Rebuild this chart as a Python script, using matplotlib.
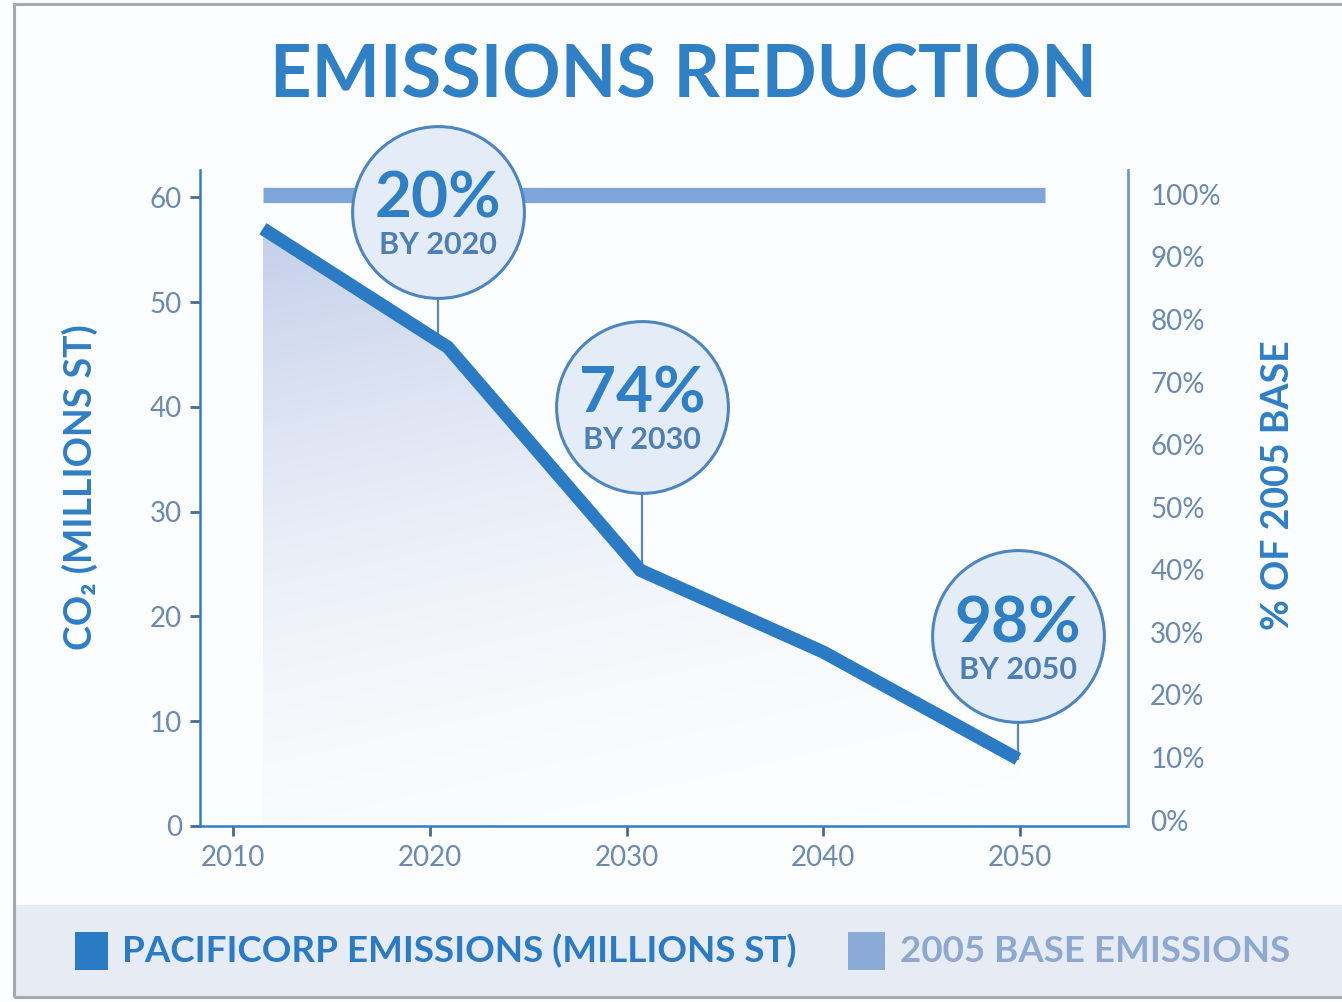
import matplotlib
matplotlib.use("Agg")
import matplotlib.pyplot as plt
import numpy as np
from matplotlib.patches import Rectangle, Polygon
from matplotlib.colors import LinearSegmentedColormap

plt.rcParams['font.family'] = ['Lato', 'DejaVu Sans']

# data
years = [2011.5, 2020.9, 2030.7, 2040.0, 2049.9]
emissions = [57.0, 45.7, 24.4, 16.6, 6.4]
base_years = [2011.5, 2051.3]
base_emissions = [60.2, 60.2]

goal_x = [2020.4, 2030.8, 2049.9]
goal_y = [58.6, 40.0, 18.1]
goal_pct = ["20%", "74%", "98%"]
goal_by = ["BY 2020", "BY 2030", "BY 2050"]

x_ticks = [2010, 2020, 2030, 2040, 2050]
y_ticks = [0, 10, 20, 30, 40, 50, 60]
pct_ticks = [0, 10, 20, 30, 40, 50, 60, 70, 80, 90, 100]

BLUE = '#2b7bc4'
LIGHT = '#7ea6da'
TICKC = '#6a8ab0'

W, H = 1342, 1002
fig = plt.figure(figsize=(W / 100, H / 100), dpi=100)
fig.patch.set_facecolor('#fcfdfe')


def fx(px):
    return px / W


def fy(py):
    return 1 - py / H


# legend band + outer frame
fig.add_artist(Rectangle((fx(15), fy(996)), fx(1342) - fx(15), (996 - 905) / H,
                         transform=fig.transFigure, facecolor='#e6ebf4', edgecolor='none', zorder=0))
fig.add_artist(Rectangle((fx(14), fy(997)), fx(1360) - fx(14), (997 - 4) / H,
                         transform=fig.transFigure, facecolor='none', edgecolor='#a9a9a9',
                         linewidth=2.2, zorder=1))

ax = fig.add_axes([fx(200), fy(826), fx(1128) - fx(200), (826 - 170) / H])
ax.set_facecolor('none')

# gradient fill under the emissions line
cmap = LinearSegmentedColormap.from_list('fade', ['#fcfdfe', '#c3cfea'])
gx = np.linspace(years[0], years[-1], 300)
gy = np.linspace(0, max(emissions), 300)
GX, GY = np.meshgrid(gx, gy)
t = 0.78 * GY / max(emissions) + 0.22 * (1 - (GX - years[0]) / (years[-1] - years[0]))
t = np.clip(t, 0, 1) ** 2
im = ax.imshow(t, extent=[gx[0], gx[-1], gy[0], gy[-1]], origin='lower', cmap=cmap,
               aspect='auto', vmin=0, vmax=1, zorder=1)
poly = Polygon(list(zip(years, emissions)) + [(years[-1], 0), (years[0], 0)],
               closed=True, facecolor='none', edgecolor='none', transform=ax.transData)
ax.add_patch(poly)
im.set_clip_path(poly)

ax.plot(base_years, base_emissions, color=LIGHT, lw=11, solid_capstyle='butt', zorder=2)

# stems from bubbles to the line
for x, y in zip(goal_x, goal_y):
    ax.plot([x, x], [np.interp(x, years, emissions), y], color='#5a88b8', lw=1.6, zorder=3)

ax.plot(years, emissions, color=BLUE, lw=9.5, solid_capstyle='butt', solid_joinstyle='miter', zorder=4)

ax.scatter(goal_x, goal_y, s=15300, facecolor='#e4ecf7', edgecolor='#4d86bf', linewidth=2.2,
           zorder=5, clip_on=False)
for x, y, p, b in zip(goal_x, goal_y, goal_pct, goal_by):
    ax.annotate(p, (x, y), xytext=(0, -4.3), textcoords='offset points', ha='center', va='baseline',
                fontsize=46, fontweight='bold', color='#2f7fc4', zorder=6)
    ax.annotate(b, (x, y), xytext=(0, -30.5), textcoords='offset points', ha='center', va='baseline',
                fontsize=22, fontweight='bold', color='#4d7fb5', zorder=6)

ax.set_xlim(2008.3, 2055.5)
ax.set_ylim(0, 62.6)
ax.set_xticks(x_ticks)
ax.set_yticks(y_ticks)
ax.tick_params(axis='y', direction='out', length=7, width=2, color='#4a6b92',
               labelsize=20, labelcolor=TICKC, pad=6)
ax.tick_params(axis='x', direction='out', length=7, width=2, color='#4a6b92',
               labelsize=20, labelcolor=TICKC, pad=7)
for s in ['top', 'right']:
    ax.spines[s].set_visible(False)
for s in ['left', 'bottom']:
    ax.spines[s].set_color('#2f7fc4')
    ax.spines[s].set_linewidth(1.8)

ax2 = ax.twinx()
ax2.set_ylim(-0.95, 103.9)
ax2.set_yticks(pct_ticks)
ax2.set_yticklabels([f"{p}%" for p in pct_ticks])
ax2.tick_params(axis='y', length=0, pad=16, labelsize=20, labelcolor=TICKC)
for s in ['top', 'left', 'bottom']:
    ax2.spines[s].set_visible(False)
ax2.spines['right'].set_color('#6f9acb')
ax2.spines['right'].set_linewidth(2)

fig.text(fx(683), fy(97), "EMISSIONS REDUCTION", ha='center', va='baseline',
         fontsize=52, fontweight='bold', color='#2f80c5')
fig.text(fx(80), fy(487), "CO\u2082 (MILLIONS ST)", rotation=90, ha='center', va='center',
         fontsize=27, fontweight='bold', color='#2f7fc4')
fig.text(fx(1278), fy(485), "% OF 2005 BASE", rotation=90, ha='center', va='center',
         fontsize=27, fontweight='bold', color='#2f7fc4')

# legend
fig.add_artist(Rectangle((fx(75), fy(970)), (108 - 75) / W, (970 - 932) / H,
                         transform=fig.transFigure, facecolor=BLUE, edgecolor='none'))
fig.add_artist(Rectangle((fx(848), fy(970)), (885 - 848) / W, (970 - 932) / H,
                         transform=fig.transFigure, facecolor='#8aabd8', edgecolor='none'))
fig.text(fx(122), fy(951), "PACIFICORP EMISSIONS (MILLIONS ST)", ha='left', va='center',
         fontsize=26.5, fontweight='bold', color=BLUE,
         family=['Liberation Sans Narrow', 'Lato'])
fig.text(fx(900), fy(951), "2005 BASE EMISSIONS", ha='left', va='center',
         fontsize=26.5, fontweight='bold', color='#8ea9cf',
         family=['Liberation Sans Narrow', 'Lato'])

fig.savefig("out.png", dpi=100, facecolor=fig.get_facecolor())
